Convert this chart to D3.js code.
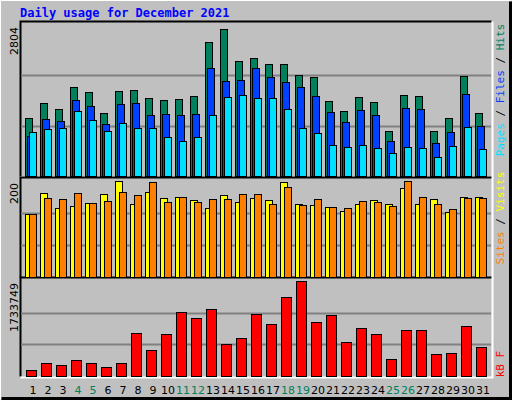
<!DOCTYPE html>
<html><head><meta charset="utf-8">
<script src="https://cdn.jsdelivr.net/npm/d3@7"></script>
<style>body{margin:0;background:#fff}svg{display:block}</style>
</head><body>
<svg id="chart" width="512" height="400"></svg>
<script>
var days = d3.range(1, 32);
var weekends = [4, 5, 11, 12, 18, 19, 25, 26];
var hits = [1071,1350,1239,1647,1554,1164,1573,1591,1443,1406,1424,1480,2483,2724,2130,2186,2074,2074,1870,1833,1387,1201,1461,1369,830,1499,1480,830,1071,1851,1164];
var files = [743,1053,1016,1406,1294,960,1331,1350,1127,1146,1127,1146,2000,1759,1777,2000,1833,1740,1647,1480,1183,997,1220,1127,644,1257,1239,607,812,1517,923];
var pages = [812,867,886,1201,1034,830,979,886,886,719,644,719,1127,1461,1499,1443,1443,1239,886,793,570,533,570,514,422,533,514,347,552,904,496];
var visits = [131,176,144,148,154,172,200,152,178,165,167,161,144,170,157,165,161,198,152,150,146,137,152,161,152,185,152,163,135,167,167];
var sites = [131,165,163,174,154,159,178,170,198,157,167,157,163,163,172,172,152,187,150,163,146,144,159,157,148,200,167,152,141,165,165];
var kbytes = [101000,240000,202000,291000,240000,165000,240000,785000,481000,766000,1164000,1050000,1221000,576000,690000,1126000,955000,1449000,1733749,993000,1107000,614000,879000,766000,310000,841000,841000,405000,424000,917000,538000];
var maxLabels = ["2804", "200", "1733749"];

var svg = d3.select("#chart");
var font = "'DejaVu Sans Mono', monospace";

// frame
svg.append("rect").attr("x", 0).attr("y", 0).attr("width", 512).attr("height", 400).attr("fill", "#c0c0c0");
svg.append("path").attr("d", "M0.5,399.5V0.5H511.5").attr("stroke", "#fff").attr("fill", "none");
svg.append("path").attr("d", "M1.5,398.5H510.5V1.5").attr("stroke", "#000").attr("fill", "none").attr("stroke-width", 3);
svg.append("text").attr("x", 20).attr("y", 17).attr("fill", "#0000ff").attr("font-family", font)
    .attr("font-weight", "bold").attr("font-size", 12).text("Daily usage for December 2021");

var x = d3.scaleBand().domain(days).range([20, 485]).paddingInner(0).paddingOuter(0);

var panels = [
    { top: 25, bottom: 176, max: 2804, label: maxLabels[0] },
    { top: 181, bottom: 277, max: 200, label: maxLabels[1] },
    { top: 281, bottom: 376, max: 1733749, label: maxLabels[2] }
];

panels.forEach(function(p, i) {
    svg.append("rect").attr("x", 20).attr("y", p.top - 4).attr("width", 472).attr("height", p.bottom - p.top + 5)
        .attr("fill", "#c0c0c0");
    svg.append("path").attr("d", "M20.5," + (p.bottom + 0.5) + "V" + (p.top - 3.5) + "H491.5")
        .attr("stroke", "#000").attr("fill", "none").attr("stroke-width", 2);
    svg.append("path").attr("d", "M20.5," + (p.bottom + 1.5) + "H492.5V" + (p.top - 3.5))
        .attr("stroke", "#fff").attr("fill", "none").attr("stroke-width", 2);
    var h = p.bottom - p.top;
    [1, 2].forEach(function(k) {
        var gy = Math.round(p.top + h * k / 3) + 0.5;
        svg.append("line").attr("x1", 21).attr("x2", 491).attr("y1", gy).attr("y2", gy)
            .attr("stroke", "#808080").attr("stroke-width", 2);
    });
    svg.append("text").attr("transform", "translate(18," + (p.top + 2) + ") rotate(-90)")
        .attr("text-anchor", "end").attr("font-family", "'DejaVu Sans', sans-serif").attr("font-size", 11)
        .attr("fill", "#000").text(p.label);
    p.y = d3.scaleLinear().domain([0, p.max]).range([p.bottom, p.top]);
});

function bars(vals, yScale, dx, w, color) {
    svg.append("g").selectAll("rect").data(vals).enter().append("rect")
        .attr("x", function(d, i) { return x(days[i]) + dx + 0.5; })
        .attr("y", function(d) { return Math.round(yScale(d)) + 0.5; })
        .attr("width", w)
        .attr("height", function(d) { return yScale.range()[0] - Math.round(yScale(d)); })
        .attr("fill", color).attr("stroke", "#000").attr("stroke-width", 1);
}

bars(hits, panels[0].y, 5, 7, "#00805c");
bars(files, panels[0].y, 7, 7, "#0040ff");
bars(pages, panels[0].y, 9, 7, "#00e0ff");
bars(visits, panels[1].y, 5, 7, "#ffff00");
bars(sites, panels[1].y, 9, 7, "#ff8000");
bars(kbytes, panels[2].y, 6, 10, "#ff0000");

// day labels
svg.append("g").selectAll("text").data(days).enter().append("text")
    .attr("x", function(d) { return x(d) + 13; })
    .attr("y", 394).attr("text-anchor", "middle")
    .attr("font-family", "'DejaVu Sans', sans-serif").attr("font-size", 11)
    .attr("fill", function(d) { return weekends.indexOf(d) >= 0 ? "#00805c" : "#000"; })
    .text(function(d) { return d; });

// right side legends
function legend(cy, parts) {
    var t = svg.append("text").attr("transform", "translate(504," + cy + ") rotate(-90)")
        .attr("text-anchor", "middle").attr("font-family", font).attr("font-size", 11);
    parts.forEach(function(p) { t.append("tspan").attr("fill", p[1]).text(p[0]); });
}
legend(90, [["Pages", "#00e0ff"], [" / ", "#000"], ["Files", "#0040ff"], [" / ", "#000"], ["Hits", "#00805c"]]);
legend(218, [["Sites", "#ff8000"], [" / ", "#000"], ["Visits", "#ffff00"]]);
legend(364, [["kB F", "#ff0000"]]);
</script>
</body></html>
